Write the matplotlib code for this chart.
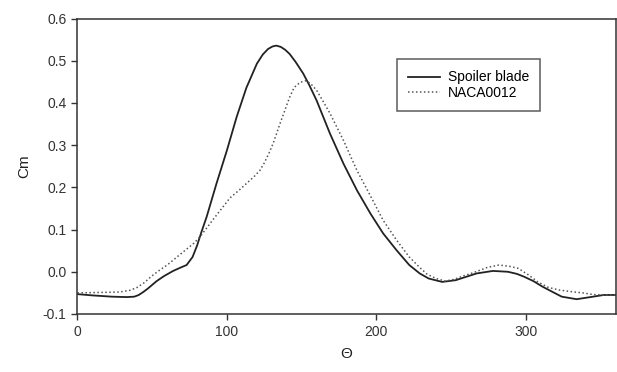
import matplotlib
matplotlib.use("Agg")
import matplotlib.pyplot as plt

plt.rcParams['font.family'] = ['Liberation Sans', 'DejaVu Sans']

theta_spoiler = [0, 10, 23, 33, 38, 41, 44, 47, 53, 58, 64, 69, 73, 77, 80, 83, 86.4, 93, 100, 106.5, 113, 120, 124, 127.5, 130.5, 133, 136, 139, 142, 146, 151, 155, 160, 169, 178, 187, 196, 204.5, 213.5, 222, 229, 235, 244, 253, 260, 267, 278, 288, 294, 299, 305, 311, 318, 324, 334, 345, 352, 360]
cm_spoiler = [-0.053, -0.056, -0.059, -0.060, -0.059, -0.055, -0.048, -0.040, -0.022, -0.010, 0.002, 0.010, 0.016, 0.035, 0.062, 0.095, 0.130, 0.209, 0.288, 0.367, 0.436, 0.493, 0.515, 0.528, 0.534, 0.536, 0.533, 0.526, 0.516, 0.497, 0.470, 0.443, 0.406, 0.327, 0.256, 0.193, 0.138, 0.091, 0.051, 0.016, -0.004, -0.016, -0.024, -0.020, -0.012, -0.004, 0.002, 0.000, -0.005, -0.012, -0.022, -0.035, -0.048, -0.059, -0.065, -0.059, -0.055, -0.055]

theta_naca = [0, 15, 28, 35, 40, 45, 49, 55, 60, 69, 78, 82, 91, 102, 108, 113, 118, 122, 125, 128, 131, 135.5, 139, 142, 145, 149, 153, 156, 160, 164, 169, 178, 187, 196, 204.5, 213.5, 222, 229, 234, 240, 246, 252, 258, 265, 274, 282, 289, 295, 302, 308, 315, 322, 330, 338, 345, 352, 360]
cm_naca = [-0.050, -0.049, -0.048, -0.044, -0.037, -0.025, -0.012, 0.004, 0.016, 0.042, 0.068, 0.083, 0.125, 0.175, 0.193, 0.209, 0.225, 0.240, 0.258, 0.280, 0.305, 0.351, 0.385, 0.414, 0.437, 0.449, 0.453, 0.446, 0.430, 0.406, 0.375, 0.311, 0.240, 0.180, 0.122, 0.075, 0.035, 0.010, -0.006, -0.016, -0.022, -0.018, -0.010, -0.002, 0.010, 0.016, 0.013, 0.008, -0.008, -0.024, -0.037, -0.043, -0.047, -0.050, -0.054, -0.055, -0.055]

fig = plt.figure(figsize=(6.17, 3.72), dpi=100)
ax = fig.add_axes([0.1256, 0.156, 0.872, 0.794])

ax.plot(theta_spoiler, cm_spoiler, color='#222222', lw=1.3, ls='-', label='Spoiler blade',
        solid_joinstyle='round')
ax.plot(theta_naca, cm_naca, color='#555555', lw=1.1, ls=(0, (1, 1.6)), label='NACA0012')

ax.set_xlim(0, 360)
ax.set_ylim(-0.1, 0.6)
ax.set_xticks([0, 100, 200, 300])
ax.set_yticks([-0.1, 0.0, 0.1, 0.2, 0.3, 0.4, 0.5, 0.6])
ax.set_yticklabels(['-0.1', '0.0', '0.1', '0.2', '0.3', '0.4', '0.5', '0.6'])
ax.tick_params(direction='out', length=4, width=1, colors='#333333', labelsize=10, top=False, right=False,
               pad=4)
for s in ax.spines.values():
    s.set_color('#333333')
    s.set_linewidth(1.1)

ax.set_xlabel('Θ', fontsize=11, color='#222222', labelpad=6)
ax.set_ylabel('Cm', fontsize=11, color='#222222', labelpad=8)

leg = ax.legend(loc='upper left', bbox_to_anchor=(0.593, 0.862), fontsize=10, frameon=True,
                fancybox=False, edgecolor='#333333', handlelength=2.3, handletextpad=0.6,
                borderpad=0.8, labelspacing=0.1, borderaxespad=0)
leg.get_frame().set_linewidth(1.1)

fig.savefig('out.png', dpi=100)
